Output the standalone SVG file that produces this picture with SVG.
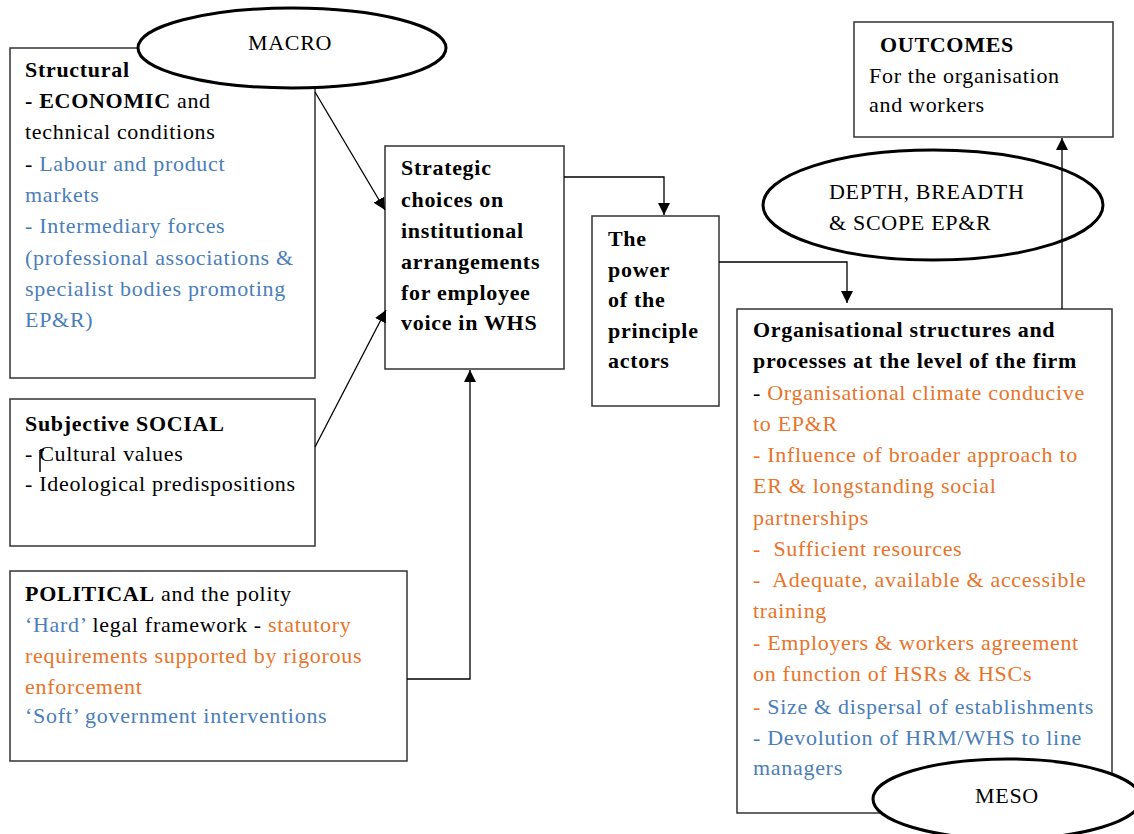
<svg xmlns="http://www.w3.org/2000/svg" width="1134" height="834" viewBox="0 0 1134 834">
<defs>
<marker id="ah" viewBox="0 0 12 12" refX="12" refY="6" markerWidth="12" markerHeight="12" markerUnits="userSpaceOnUse" orient="auto">
<path d="M0,0 L12,6 L0,12 Z" fill="#000"/>
</marker>
<style>
.box{fill:#fff;stroke:#333;stroke-width:1.5}
.ell{fill:#fff;stroke:#000;stroke-width:3}
text{font-family:"Liberation Serif","Times New Roman",serif;font-size:22px;letter-spacing:0.7px;fill:#000;white-space:pre}
.b{font-weight:bold}
.bl{fill:#4A7EBB}
.or{fill:#E8742A}
.con{fill:none;stroke:#000;stroke-width:1.3}
</style>
</defs>
<rect width="1134" height="834" fill="#fff"/>

<g id="structural">
<rect class="box" x="10" y="48" width="305" height="330"/>
<text x="25" y="77" class="b">Structural</text>
<text x="25" y="108"><tspan class="b">- ECONOMIC</tspan> and</text>
<text x="25" y="139">technical conditions</text>
<text x="25" y="171">- <tspan class="bl">Labour and product</tspan></text>
<text x="25" y="202" class="bl">markets</text>
<text x="25" y="233" class="bl">- Intermediary forces</text>
<text x="25" y="265" class="bl">(professional associations &amp;</text>
<text x="25" y="296" class="bl">specialist bodies promoting</text>
<text x="25" y="327" class="bl">EP&amp;R)</text>
</g>

<g id="social">
<rect class="box" x="10" y="399" width="305" height="147"/>
<text x="25" y="431" class="b">Subjective SOCIAL</text>
<text x="25" y="461">- Cultural values</text>
<text x="25" y="491">- Ideological predispositions</text>
<path d="M40,450 V472 M40,450 H44" stroke="#000" stroke-width="1.5" fill="none"/>
</g>

<g id="political">
<rect class="box" x="10" y="571" width="397" height="190"/>
<text x="25" y="601"><tspan class="b">POLITICAL</tspan> and the polity</text>
<text x="25" y="632"><tspan class="bl">‘Hard’</tspan> legal framework - <tspan class="or">statutory</tspan></text>
<text x="25" y="663" class="or">requirements supported by rigorous</text>
<text x="25" y="694" class="or">enforcement</text>
<text x="25" y="723" class="bl">‘Soft’ government interventions</text>
</g>

<g id="strategic">
<rect class="box" x="385" y="146" width="179" height="223"/>
<text x="401" y="175" class="b">Strategic</text>
<text x="401" y="207" class="b">choices on</text>
<text x="401" y="238" class="b">institutional</text>
<text x="401" y="269" class="b">arrangements</text>
<text x="401" y="300" class="b">for employee</text>
<text x="401" y="330" class="b">voice in WHS</text>
</g>

<g id="power">
<rect class="box" x="592" y="216" width="127" height="190"/>
<text x="608" y="246" class="b">The</text>
<text x="608" y="277" class="b">power</text>
<text x="608" y="307" class="b">of the</text>
<text x="608" y="338" class="b">principle</text>
<text x="608" y="368" class="b">actors</text>
</g>

<g id="organisational">
<rect class="box" x="737" y="309" width="375" height="504"/>
<text x="753" y="337" class="b">Organisational structures and</text>
<text x="753" y="368" class="b">processes at the level of the firm</text>
<text x="753" y="400">- <tspan class="or">Organisational climate conducive</tspan></text>
<text x="753" y="431" class="or">to EP&amp;R</text>
<text x="753" y="462" class="or">- Influence of broader approach to</text>
<text x="753" y="493" class="or">ER &amp; longstanding social</text>
<text x="753" y="525" class="or">partnerships</text>
<text x="753" y="556" class="or">-  Sufficient resources</text>
<text x="753" y="587" class="or">-  Adequate, available &amp; accessible</text>
<text x="753" y="618" class="or">training</text>
<text x="753" y="650" class="or">- Employers &amp; workers agreement</text>
<text x="753" y="681" class="or">on function of HSRs &amp; HSCs</text>
<text x="753" y="714"><tspan class="or">- </tspan><tspan class="bl">Size &amp; dispersal of establishments</tspan></text>
<text x="753" y="745" class="bl">- Devolution of HRM/WHS to line</text>
<text x="753" y="775" class="bl">managers</text>
</g>

<g id="outcomes">
<rect class="box" x="854" y="22" width="259" height="115"/>
<text x="880" y="52" class="b">OUTCOMES</text>
<text x="869" y="83">For the organisation</text>
<text x="869" y="112">and workers</text>
</g>

<g id="macro">
<ellipse class="ell" cx="292" cy="48" rx="154" ry="40"/>
<text x="290" y="50" text-anchor="middle">MACRO</text>
</g>

<g id="depth">
<ellipse class="ell" cx="933" cy="205" rx="170" ry="55"/>
<text x="829" y="199">DEPTH, BREADTH</text>
<text x="829" y="230">&amp; SCOPE EP&amp;R</text>
</g>

<g id="meso">
<ellipse class="ell" cx="1007" cy="799" rx="134" ry="40"/>
<text x="1007" y="803" text-anchor="middle">MESO</text>
</g>

<g id="connectors">
<path class="con" d="M315,92 L385,210" marker-end="url(#ah)"/>
<path class="con" d="M315,447 L386,310" marker-end="url(#ah)"/>
<path class="con" d="M407,679 H470 V370" marker-end="url(#ah)"/>
<path class="con" d="M564,177 H664 V215" marker-end="url(#ah)"/>
<path class="con" d="M719,262 H847 V303" marker-end="url(#ah)"/>
<path class="con" d="M1062,309 V138" marker-end="url(#ah)"/>
</g>
</svg>
